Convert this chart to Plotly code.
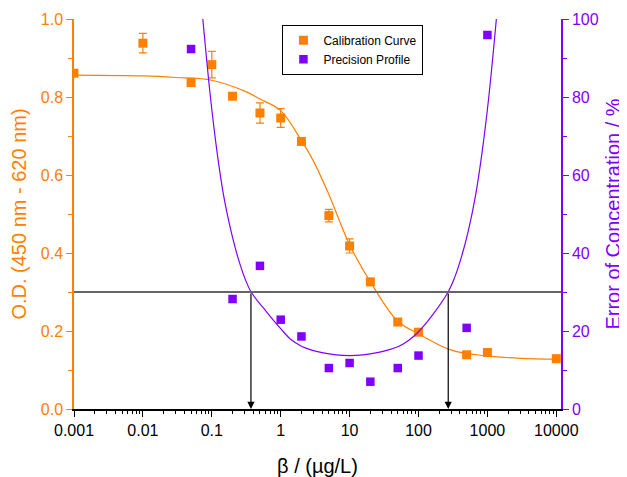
import math
import plotly.graph_objects as go

# ---- data ----
cal_x = [0.001, 0.01, 0.05, 0.1, 0.2, 0.5, 1, 2, 5, 10, 20, 50, 100, 500, 1000, 10000]
cal_y = [0.861, 0.938, 0.837, 0.883, 0.802, 0.759, 0.746, 0.686, 0.496, 0.418, 0.326, 0.223, 0.197, 0.139, 0.145, 0.129]
cal_err = [0.008, 0.025, 0.008, 0.034, 0.005, 0.026, 0.024, 0.005, 0.016, 0.018, 0.006, 0.005, 0.005, 0.005, 0.005, 0.005]

fit_x = [0.001, 0.01, 0.03, 0.1, 0.3, 0.5, 1, 2, 3, 5, 10, 20, 50, 100, 300, 1000, 3000, 10000]
fit_y = [0.856, 0.854, 0.850, 0.843, 0.815, 0.795, 0.765, 0.688, 0.635, 0.55, 0.421, 0.326, 0.225, 0.193, 0.151, 0.136, 0.130, 0.128]

prec_x = [0.05, 0.2, 0.5, 1, 2, 5, 10, 20, 50, 100, 500, 1000]
prec_y = [92.3, 28.2, 36.7, 22.9, 18.6, 10.5, 11.8, 7.0, 10.5, 13.7, 20.8, 95.9]

prof_x = [0.0741, 0.0955, 0.120, 0.151, 0.191, 0.240, 0.302, 0.372, 0.631, 1.0, 1.41, 2.0, 2.82, 3.98, 6.31, 10,
          15.8, 25.1, 35.5, 50.1, 70.8, 100, 158, 269, 331, 417, 525, 661, 832, 1047, 1349]
prof_y = [100, 80, 65.5, 54, 45.5, 38.8, 33.5, 30, 24.8, 20.6, 17.8, 16.1, 15.1, 14.45, 13.9, 13.7,
          13.9, 14.45, 15.1, 15.95, 17.5, 19.8, 24, 30, 33.5, 38.8, 45.5, 54, 65.5, 80, 100]

threshold = 30          # % error limit (right axis)
limit_x = [0.37, 270]   # intersections of profile with threshold
x_ticks = [0.001, 0.01, 0.1, 1, 10, 100, 1000, 10000]
x_ticktext = ["0.001", "0.01", "0.1", "1", "10", "100", "1000", "10000"]

ORANGE = "#FF8000"
PURPLE = "#8000FF"
FONT = "Arial, Liberation Sans, sans-serif"

fig = go.Figure()

fig.add_trace(go.Scatter(x=fit_x, y=fit_y, mode="lines", line=dict(color=ORANGE, width=1.2, shape="spline"),
                         showlegend=False, hoverinfo="skip"))
fig.add_trace(go.Scatter(x=prof_x, y=prof_y, mode="lines", yaxis="y2",
                         line=dict(color=PURPLE, width=1.2, shape="spline"),
                         showlegend=False, hoverinfo="skip"))
fig.add_trace(go.Scatter(x=cal_x, y=cal_y, mode="markers", name="Calibration Curve",
                         marker=dict(symbol="square", size=9, color=ORANGE),
                         error_y=dict(type="data", array=cal_err, color=ORANGE, thickness=1.2, width=4)))
fig.add_trace(go.Scatter(x=prec_x, y=prec_y, mode="markers", name="Precision Profile", yaxis="y2",
                         marker=dict(symbol="square", size=8.5, color=PURPLE)))

# horizontal threshold line
fig.add_shape(type="line", xref="x domain", x0=0, x1=1, yref="y2", y0=threshold, y1=threshold,
              line=dict(color="#666666", width=2))

# arrows down from the intersections
for lx in limit_x:
    fig.add_annotation(x=math.log10(lx), y=0, ax=math.log10(lx), ay=threshold / 100,
                       xref="x", yref="y", axref="x", ayref="y", text="", showarrow=True,
                       arrowhead=2, arrowsize=1.2, arrowwidth=1.2, arrowcolor="black", standoff=0)

# page body has an 8px default margin, so the figure is sized/offset to compensate
fig.update_layout(
    width=619, height=469,
    margin=dict(l=66, r=66, t=11, b=68),
    plot_bgcolor="white", paper_bgcolor="white",
    font=dict(family=FONT, size=16, color="black"),
    legend=dict(x=0.428, y=0.985, xanchor="left", yanchor="top", bordercolor="black", borderwidth=1,
                bgcolor="white", font=dict(size=12, family=FONT), tracegroupgap=0, itemwidth=30),
    xaxis=dict(type="log", range=[-3, 4.068], showgrid=False, zeroline=False, automargin=False,
               showline=True, linecolor="black", linewidth=1.5,
               ticks="outside", ticklen=6, tickwidth=1.2, tickcolor="black",
               tickmode="array", tickvals=x_ticks, ticktext=x_ticktext,
               minor=dict(ticks="outside", ticklen=3, tickwidth=1, tickcolor="black", dtick="D1"),
               tickfont=dict(size=16, color="black"),
               title=dict(text="β / (µg/L)", font=dict(size=20, color="black"), standoff=22)),
    yaxis=dict(range=[0, 1.0], showgrid=False, zeroline=False, automargin=False,
               showline=True, linecolor=ORANGE, linewidth=1.5,
               ticks="outside", ticklen=6, tickwidth=1.2, tickcolor=ORANGE,
               dtick=0.2, tick0=0, tickformat=".1f",
               minor=dict(ticks="outside", ticklen=4, tickwidth=1, tickcolor=ORANGE, dtick=0.1),
               tickfont=dict(size=16, color=ORANGE),
               title=dict(text="O.D. (450 nm - 620 nm)", font=dict(size=20, color=ORANGE), standoff=12)),
    yaxis2=dict(range=[0, 100], overlaying="y", side="right", showgrid=False, zeroline=False, automargin=False,
                showline=True, linecolor=PURPLE, linewidth=1.5,
                ticks="outside", ticklen=6, tickwidth=1.2, tickcolor=PURPLE,
                dtick=20, tick0=0,
                minor=dict(ticks="outside", ticklen=4, tickwidth=1, tickcolor=PURPLE, dtick=10),
                tickfont=dict(size=16, color=PURPLE),
                title=dict(text="Error of Concentration / %", font=dict(size=20, color=PURPLE), standoff=8)),
)

fig.write_html("out.html")
